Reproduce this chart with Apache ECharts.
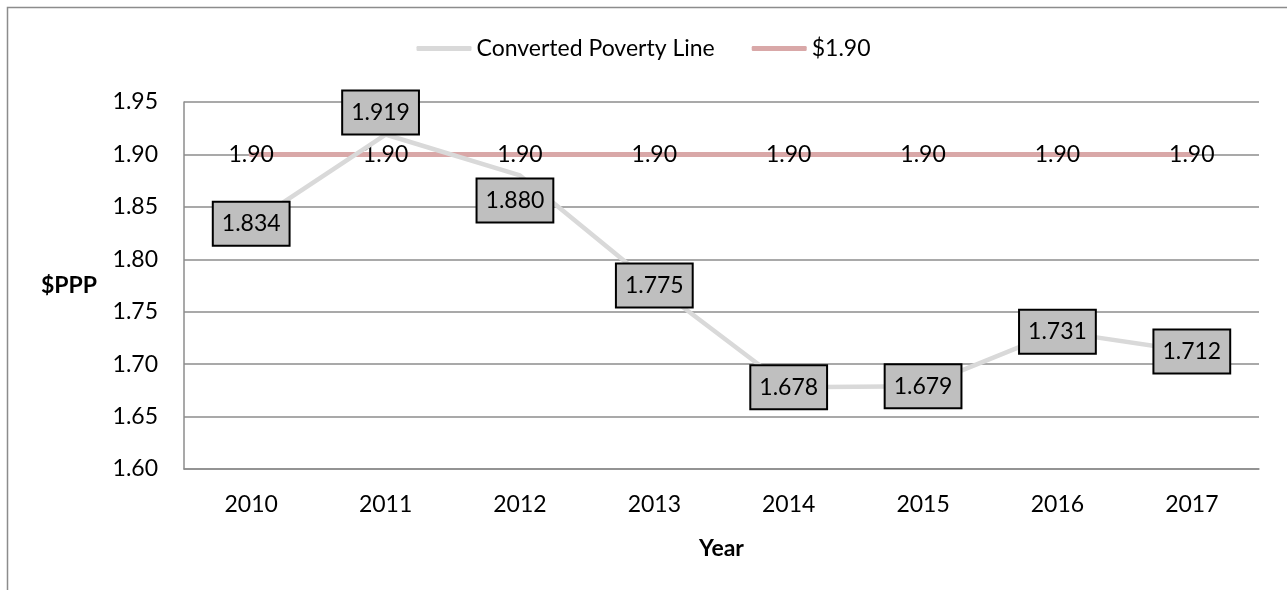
<!DOCTYPE html>
<html>
<head>
<meta charset="utf-8">
<script src="https://cdn.jsdelivr.net/npm/echarts@6/dist/echarts.min.js"></script>
<style>
html,body{margin:0;padding:0;background:#fff;}
#chart{width:1287px;height:590px;}
</style>
</head>
<body>
<div id="chart"></div>
<script>
const years = ['2010','2011','2012','2013','2014','2015','2016','2017'];
const convertedPovertyLine = [1.834, 1.919, 1.880, 1.775, 1.678, 1.679, 1.731, 1.712];
const povertyLine190 = [1.90, 1.90, 1.90, 1.90, 1.90, 1.90, 1.90, 1.90];
const yMin = 1.60, yMax = 1.95, yStep = 0.05;

const FONT = 'Lato, "Open Sans", sans-serif';
const FS = 23;
const chart = echarts.init(document.getElementById('chart'));

// label placement for boxes that sit above/below their point (style only)
const labelPlacement = {1: {position: 'top', distance: 1, offset: [-5, 0]},
                        2: {position: 'bottom', distance: 4, offset: [-5, 0]}};

const cplData = convertedPovertyLine.map((v, i) => {
  const item = {value: v};
  if (labelPlacement[i]) item.label = labelPlacement[i];
  return item;
});

chart.setOption({
  animation: false,
  textStyle: {fontFamily: FONT},
  graphic: [{
    type: 'rect', silent: true, z: -1,
    shape: {x: 7.5, y: 7.5, width: 1400, height: 700},
    style: {fill: 'none', stroke: '#8c8c8c', lineWidth: 1.5}
  }],
  legend: {
    top: 32, left: 'center',
    itemWidth: 55, itemHeight: 5, itemGap: 37,
    icon: 'roundRect',
    textStyle: {fontFamily: FONT, fontSize: FS, color: '#000'},
    data: ['Converted Poverty Line', '$1.90']
  },
  grid: {left: 184, right: 28, top: 102, bottom: 121, containLabel: false},
  xAxis: {
    type: 'category', data: years, boundaryGap: true,
    name: 'Year', nameLocation: 'middle', nameGap: 68,
    nameTextStyle: {fontFamily: FONT, fontSize: FS, fontWeight: 'bold', color: '#000'},
    axisLine: {show: true, lineStyle: {color: '#8c8c8c', width: 1.5}},
    axisTick: {show: false},
    axisLabel: {fontFamily: FONT, fontSize: FS, color: '#000', margin: 24},
    splitLine: {show: false}
  },
  yAxis: {
    type: 'value', min: yMin, max: yMax, interval: yStep,
    name: '$PPP', nameLocation: 'middle', nameRotate: 0, nameGap: 87,
    nameTextStyle: {fontFamily: FONT, fontSize: FS, fontWeight: 'bold', color: '#000'},
    axisLine: {show: true, lineStyle: {color: '#8c8c8c', width: 1.5}},
    axisTick: {show: false},
    axisLabel: {fontFamily: FONT, fontSize: FS, color: '#000', margin: 26,
      formatter: v => v.toFixed(2)},
    splitLine: {show: true, lineStyle: {color: '#8c8c8c', width: 1.5}}
  },
  series: [
    {
      name: 'Converted Poverty Line', type: 'line', data: cplData,
      symbol: 'circle', symbolSize: 0, showSymbol: true, z: 3,
      lineStyle: {color: '#d9d9d9', width: 4.5, cap: 'round'},
      itemStyle: {color: '#d9d9d9'},
      label: {
        show: true, position: 'inside',
        formatter: p => p.value.toFixed(3),
        fontFamily: FONT, fontSize: FS, color: '#000',
        backgroundColor: '#bfbfbf', borderColor: '#000', borderWidth: 2,
        padding: [10, 8, 9, 8]
      }
    },
    {
      name: '$1.90', type: 'line', data: povertyLine190,
      symbol: 'circle', symbolSize: 0, showSymbol: true, z: 2,
      lineStyle: {color: '#d9a8a8', width: 5, cap: 'round'},
      itemStyle: {color: '#d9a8a8'},
      label: {
        show: true, position: 'inside',
        formatter: p => p.value.toFixed(2),
        fontFamily: FONT, fontSize: FS, color: '#000'
      }
    }
  ]
});
</script>
</body>
</html>
